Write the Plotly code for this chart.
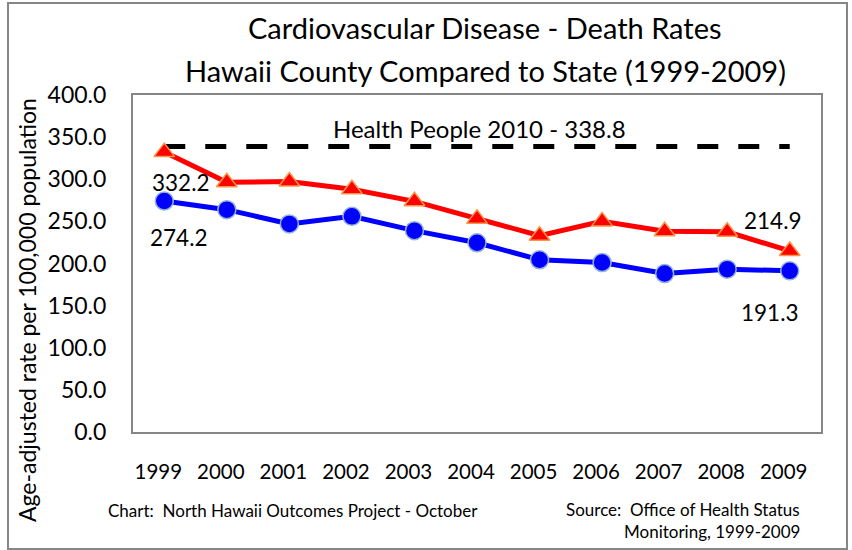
import plotly.graph_objects as go

years = ['1999', '2000', '2001', '2002', '2003', '2004', '2005', '2006', '2007', '2008', '2009']
county = [332.2, 296.4, 297.3, 288.2, 273.8, 253.0, 233.0, 250.0, 238.3, 237.7, 214.9]
state = [274.2, 263.9, 247.0, 256.0, 239.0, 224.6, 204.4, 201.2, 188.1, 193.3, 191.3]
target = [338.8] * len(years)

FONT = 'Lato'

fig = go.Figure()

fig.add_trace(go.Scatter(x=years, y=target, mode='lines',
                         line=dict(color='black', width=5, dash='21px,20px'),
                         hoverinfo='skip'))
fig.add_trace(go.Scatter(x=years, y=county, mode='lines+markers',
                         line=dict(color='#ff0000', width=5),
                         marker=dict(symbol='triangle-up', size=18, color='#ff0000',
                                     line=dict(color='#f79646', width=1.5))))
fig.add_trace(go.Scatter(x=years, y=state, mode='lines+markers',
                         line=dict(color='#0000ff', width=5),
                         marker=dict(symbol='circle', size=18, color='#0000ff',
                                     line=dict(color='#95b3d7', width=1.5))))

fig.update_layout(
    width=852, height=550,
    margin=dict(l=133, r=31, t=95, b=118),
    paper_bgcolor='white', plot_bgcolor='white',
    showlegend=False,
    font=dict(family=FONT, color='black'),
)

fig.update_xaxes(type='category', range=[-0.5, 10.5], showgrid=False,
                 showline=True, linecolor='#868686', linewidth=2, mirror=True,
                 ticks='', ticklabelstandoff=20, ticklabelshift=-6, tickfont=dict(size=20.5))
fig.update_yaxes(range=[0, 400], dtick=50, tickformat='.1f', showgrid=False,
                 zeroline=False, showline=True, linecolor='#868686', linewidth=2,
                 mirror=True, ticks='', ticklabelstandoff=20, tickfont=dict(size=23))

ann = [
    dict(text='Cardiovascular Disease - Death Rates', x=485, y=28, size=29),
    dict(text='Hawaii County Compared to State (1999-2009)', x=485, y=70, size=29),
    dict(text='Health People 2010 - 338.8', x=479, y=128, size=24),
    dict(text='332.2', x=181, y=182, size=22.5),
    dict(text='274.2', x=179, y=237, size=22.5),
    dict(text='214.9', x=773, y=220, size=22.5),
    dict(text='191.3', x=770, y=312, size=22.5),
    dict(text='Chart:  North Hawaii Outcomes Project - October', x=293, y=510, size=17),
]
for a in ann:
    fig.add_annotation(text=a['text'], xref='paper', yref='paper',
                       x=(a['x'] - 133) / 688, y=(432 - a['y']) / 337,
                       xanchor='center', yanchor='middle', showarrow=False,
                       font=dict(size=a['size'], family=FONT, color='black'))

for txt, yy in [('Source:  Office of Health Status', 509), ('Monitoring, 1999-2009', 531)]:
    fig.add_annotation(text=txt, xref='paper', yref='paper',
                       x=(802 - 133) / 688, y=(432 - yy) / 337,
                       xanchor='right', yanchor='middle', showarrow=False,
                       font=dict(size=17, family=FONT, color='black'))

fig.add_annotation(text='Age-adjusted rate per 100,000 population', xref='paper', yref='paper',
                   x=(27 - 133) / 688, y=(432 - 310) / 337, textangle=-90,
                   xanchor='center', yanchor='middle', showarrow=False,
                   font=dict(size=23, family=FONT, color='black'))

fig.add_shape(type='rect', xref='paper', yref='paper',
              x0=(8 - 133) / 688, x1=(847 - 133) / 688,
              y0=(432 - 549) / 337, y1=(432 - 3) / 337,
              line=dict(color='#868686', width=2), layer='below')

fig.write_html('out.html', config={'displayModeBar': False},
               post_script="document.body.style.margin='0';")
